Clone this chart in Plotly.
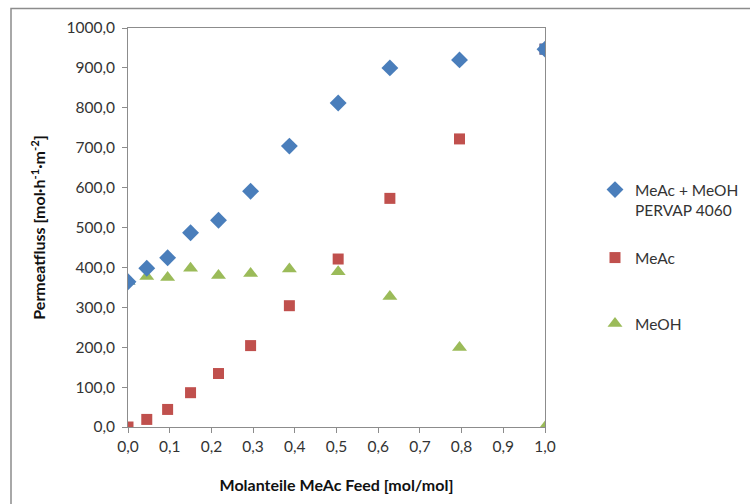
import plotly.graph_objects as go

x_feed = [0.0, 0.045, 0.095, 0.150, 0.217, 0.294, 0.387, 0.504, 0.628, 0.795, 1.0]
total_flux = [364, 398, 424, 487, 518, 591, 704, 812, 900, 920, 947]
meac_flux = [0, 19, 44, 86, 134, 204, 304, 421, 573, 722, 947]
meoh_flux = [365, 377, 375, 398, 380, 385, 396, 389, 327, 199, 0]

name_total = "MeAc + MeOH<br>PERVAP 4060"
name_meac = "MeAc"
name_meoh = "MeOH"

BLUE = "#4A7EBB"
RED = "#C0504D"
GREEN = "#9BBB59"
FONT = "Lato, Open Sans, sans-serif"
TXT = "#333333"

fig = go.Figure()
fig.add_trace(go.Scatter(x=x_feed, y=meac_flux, mode="markers", name=name_meac,
                         legend="legend2",
                         marker=dict(symbol="square", size=11, color=RED)))
fig.add_trace(go.Scatter(x=x_feed, y=meoh_flux, mode="markers", name=name_meoh,
                         legend="legend3",
                         marker=dict(symbol="triangle-up", size=13, color=GREEN)))
# end points where the series coincide are drawn in blue in the reference
fig.add_trace(go.Scatter(x=[x_feed[-1]], y=[meac_flux[-1]], mode="markers", showlegend=False,
                         hoverinfo="skip", marker=dict(symbol="square", size=11, color=BLUE)))
fig.add_trace(go.Scatter(x=[x_feed[0]], y=[meoh_flux[0]], mode="markers", showlegend=False,
                         hoverinfo="skip", marker=dict(symbol="triangle-up", size=13, color=BLUE)))
fig.add_trace(go.Scatter(x=x_feed, y=total_flux, mode="markers", name=name_total,
                         legend="legend",
                         marker=dict(symbol="diamond", size=13, color=BLUE)))

axis_common = dict(showgrid=False, zeroline=False, showline=True, linecolor="#8C8C8C",
                   linewidth=1, mirror=True, ticks="outside", tickcolor="#8C8C8C",
                   ticklen=5, automargin=False,
                   tickfont=dict(family=FONT, size=15.5, color=TXT))

fig.update_xaxes(range=[0, 1], dtick=0.1, tick0=0, tickformat=".1f",
                 title=dict(text="<b>Molanteile MeAc Feed [mol/mol]</b>",
                            font=dict(family=FONT, size=16, color="#111111"), standoff=26),
                 **axis_common)
fig.update_yaxes(range=[0, 1000], dtick=100, tick0=0, tickformat=".1f",
                 ticklabelstandoff=4,
                 title=dict(text="<b>Permeatfluss [mol·h<sup>-1</sup>·m<sup>-2</sup>]</b>",
                            font=dict(family=FONT, size=16, color="#111111"), standoff=16),
                 **axis_common)


def leg(top_px):
    return dict(x=595 / 750, y=1 - top_px / 504, xref="container", yref="container",
                xanchor="left", yanchor="top", valign="top",
                font=dict(family=FONT, size=15.5, color=TXT),
                itemwidth=30, bgcolor="rgba(0,0,0,0)")


fig.update_layout(
    width=750, height=504,
    margin=dict(l=128, r=205, t=28, b=77),
    paper_bgcolor="white", plot_bgcolor="white",
    separators=",.",
    font=dict(family=FONT, size=15.5, color=TXT),
    legend=leg(173),
    legend2=leg(241),
    legend3=leg(307),
    shapes=[dict(type="rect", xref="paper", yref="paper", layer="below",
                 x0=-117 / 417, x1=(750 - 128 + 5) / 417,
                 y0=-(504 - 427 + 5) / 399, y1=(427 - 8.5) / 399,
                 line=dict(color="#8C8C8C", width=1.5))],
)

fig.write_html("out.html")
